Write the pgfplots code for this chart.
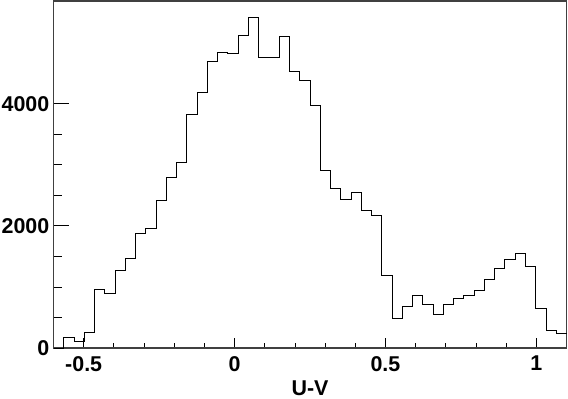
\documentclass[border=0pt]{standalone}
\usepackage{fontspec}
\setmainfont{Liberation Sans}
\usepackage{pgfplots}
\pgfplotsset{compat=1.18}
\newcommand\tl{\fontsize{21.5}{23}\selectfont\bfseries}
\newcommand\al{\fontsize{21.5}{23}\selectfont\bfseries}
\begin{document}
\begin{tikzpicture}
\useasboundingbox (-53.5bp,-51bp) rectangle (514.5bp,348bp);
\begin{axis}[scale only axis,width=513bp,height=347bp,
  xmin=-0.6,xmax=1.1,ymin=0,ymax=5680,
  axis line style={black!75,line width=1.1bp},
  tick align=inside,tick pos=left,
  xtick={-0.5,0,0.5,1},xticklabels={-0.5,0,0.5,1},
  ytick={0,2000,4000},yticklabels={0,2000,4000},
  minor x tick num=4,minor y tick num=3,
  xtick style={black,line width=0.8bp,/pgfplots/major tick length=10bp,/pgfplots/minor tick length=5bp},
  ytick style={black,line width=0.8bp,/pgfplots/major tick length=15bp,/pgfplots/minor tick length=8bp},
  /pgf/number format/assume math mode=true,
  tick label style={font=\tl},
  xticklabel style={inner sep=0pt,yshift=-8bp},
  yticklabel style={inner sep=0pt,xshift=-4bp},
  xlabel={U-V},
  xlabel style={font=\al,at={(axis description cs:0.5,0)},anchor=north,inner sep=0pt,yshift=-33bp},
  clip=false]
\addplot[const plot,black,line width=0.9bp] coordinates {
(-0.600,0) (-0.566,180) (-0.532,108) (-0.498,261) (-0.464,952)
(-0.430,887) (-0.396,1267) (-0.362,1470) (-0.328,1878) (-0.294,1960)
(-0.260,2410) (-0.226,2786) (-0.192,3037) (-0.158,3815) (-0.124,4190)
(-0.090,4697) (-0.056,4844) (-0.022,4817) (0.012,5111) (0.046,5415)
(0.080,4757) (0.114,4762) (0.148,5100) (0.182,4528) (0.216,4381)
(0.250,3978) (0.284,2907) (0.318,2618) (0.352,2433) (0.386,2541)
(0.420,2247) (0.454,2177) (0.488,1181) (0.522,478) (0.556,680)
(0.590,859) (0.624,718) (0.658,555) (0.692,718) (0.726,816)
(0.760,859) (0.794,941) (0.828,1120) (0.862,1306) (0.896,1453)
(0.930,1540) (0.964,1333) (0.998,653) (1.032,294) (1.066,245)
(1.100,245)};
\end{axis}
\end{tikzpicture}
\end{document}
